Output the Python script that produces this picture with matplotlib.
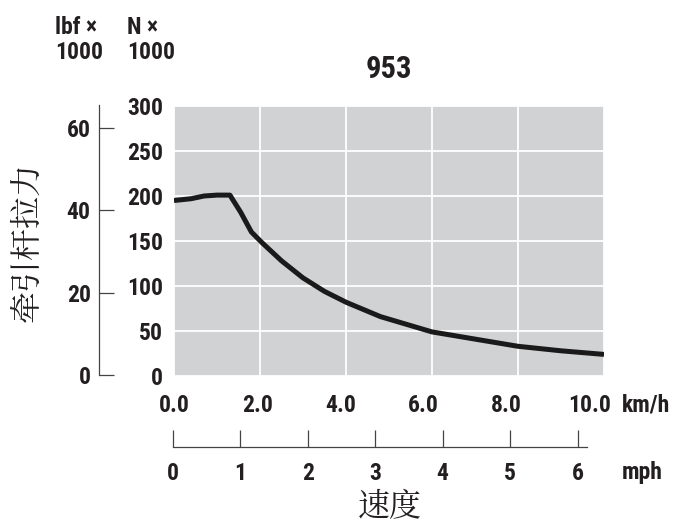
import matplotlib
matplotlib.use('Agg')
import matplotlib.pyplot as plt
from matplotlib.transforms import ScaledTranslation

# 953 drawbar pull curve
speed_kmh = [0, 0.4, 0.7, 1.0, 1.3, 1.55, 1.8, 2.05, 2.5, 3.0, 3.5, 4.0, 4.8, 6.0, 7.0, 8.0, 9.0, 10.0]
pull_kn = [195, 197, 200, 201, 201, 182, 160, 148, 128, 109, 94, 82, 66, 49, 41, 33, 28, 24]

kn_ticks = [0, 50, 100, 150, 200, 250, 300]
kmh_ticks = [0, 2, 4, 6, 8, 10]
kmh_labels = ['0.0', '2.0', '4.0', '6.0', '8.0', '10.0']
lbf_ticks = [0, 20, 40, 60]
mph_ticks = [0, 1, 2, 3, 4, 5, 6]

bold = ['Roboto Condensed', 'DejaVu Sans']
cjk = ['Noto Serif CJK SC', 'Noto Sans CJK SC', 'DejaVu Sans']
plt.rcParams['font.family'] = bold
plt.rcParams['font.weight'] = 'bold'
txt = '#231f20'
fs = 17

fig = plt.figure(figsize=(6.91, 5.25), dpi=100)

# main plot
ax = fig.add_axes([174/691, 149/525, 430/691, 270/525])
ax.set_facecolor('#d1d2d4')
ax.plot(speed_kmh, pull_kn, color='#1a1a1a', lw=3.6, solid_capstyle='butt', zorder=3)
ax.set_xlim(0, 10)
ax.set_ylim(0, 300)
ax.set_xticks(kmh_ticks)
ax.set_xticklabels(kmh_labels)
ax.set_yticks(kn_ticks)
ax.grid(True, color='white', lw=1.3)
ax.set_axisbelow(True)
for s in ax.spines.values():
    s.set_visible(False)
ax.tick_params(axis='x', length=0, pad=13, labelsize=fs, labelcolor=txt)
ax.tick_params(axis='y', length=0, pad=8, labelsize=fs, labelcolor=txt)
ax.set_title('953', fontsize=22, fontweight='bold', color=txt, pad=20)

# km/h labels in the original drift slightly left
for i, lab in enumerate(ax.get_xticklabels()):
    lab.set_transform(lab.get_transform() + ScaledTranslation(-0.028 * i, 0, fig.dpi_scale_trans))

# lbf axis
axl = fig.add_axes([99/691, 150/525, 0.001, 270/525])
axl.set_ylim(0, 65.6)
axl.set_yticks(lbf_ticks)
axl.set_xticks([])
axl.patch.set_visible(False)
for k in ['top', 'right', 'bottom']:
    axl.spines[k].set_visible(False)
axl.spines['left'].set_color('#444444')
axl.spines['left'].set_linewidth(0.9)
axl.tick_params(axis='y', direction='in', length=11, width=0.9, color='#444444',
                pad=6, labelsize=fs, labelcolor=txt)

# mph axis
axm = fig.add_axes([173/691, 78/525, 414/691, 0.001])
axm.set_xlim(0, 6.14)
axm.set_xticks(mph_ticks)
axm.set_yticks([])
axm.patch.set_visible(False)
for k in ['top', 'right', 'left']:
    axm.spines[k].set_visible(False)
axm.spines['bottom'].set_color('#444444')
axm.spines['bottom'].set_linewidth(0.9)
axm.tick_params(axis='x', direction='in', length=12, width=0.9, color='#444444',
                pad=11, labelsize=fs, labelcolor=txt)

# unit labels
fig.text(55/691, 1 - 40/525, 'lbf ×\n1000', fontsize=fs, color=txt, ha='left', va='center', linespacing=1.15)
fig.text(127/691, 1 - 40/525, 'N ×\n1000', fontsize=fs, color=txt, ha='left', va='center', linespacing=1.15)
fig.text(622/691, 1 - 405/525, 'km/h', fontsize=fs, color=txt, ha='left', va='center')
fig.text(622/691, 1 - 472/525, 'mph', fontsize=fs, color=txt, ha='left', va='center')

# axis titles
fig.text(28/691, 1 - 242/525, '牵引杆拉力', family=cjk, fontweight='light', fontsize=23,
         color=txt, rotation=90, ha='center', va='center')
fig.text(390/691, 1 - 507/525, '速度', family=cjk, fontweight='light', fontsize=23,
         color=txt, ha='center', va='center')

fig.savefig('out.png', dpi=100)
